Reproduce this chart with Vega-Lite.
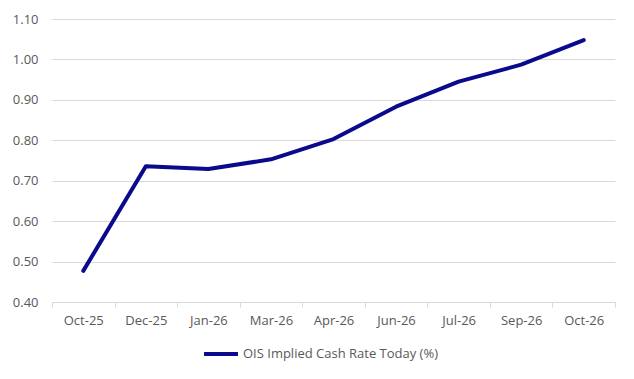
{
  "$schema": "https://vega.github.io/schema/vega-lite/v6.json",
  "width": 563,
  "height": 283,
  "autosize": {"type": "none"},
  "padding": {"left": 52, "top": 19, "right": 19, "bottom": 77},
  "background": "white",
  "config": {
    "view": {"stroke": null},
    "font": "Open Sans"
  },
  "data": {
    "values": [
      {"month": "Oct-25", "rate": 0.477},
      {"month": "Dec-25", "rate": 0.736},
      {"month": "Jan-26", "rate": 0.729},
      {"month": "Mar-26", "rate": 0.753},
      {"month": "Apr-26", "rate": 0.803},
      {"month": "Jun-26", "rate": 0.883},
      {"month": "Jul-26", "rate": 0.945},
      {"month": "Sep-26", "rate": 0.987},
      {"month": "Oct-26", "rate": 1.048}
    ]
  },
  "mark": {"type": "line", "strokeWidth": 4, "strokeCap": "round", "strokeJoin": "round"},
  "encoding": {
    "x": {
      "field": "month", "type": "ordinal", "sort": null, "bandPosition": 0.5,
      "scale": {"type": "band", "paddingInner": 0, "paddingOuter": 0},
      "axis": {
        "title": null, "labelAngle": 0, "tickBand": "extent", "grid": false,
        "domainColor": "#d9d9d9", "tickColor": "#d9d9d9", "tickSize": 5,
        "labelColor": "#595959", "labelFontSize": 13, "labelPadding": 7
      }
    },
    "y": {
      "field": "rate", "type": "quantitative",
      "scale": {"domain": [0.4, 1.1], "nice": false, "zero": false},
      "axis": {
        "title": null, "values": [0.4, 0.5, 0.6, 0.7, 0.8, 0.9, 1.0, 1.1], "format": ".2f",
        "domain": false, "ticks": false, "gridColor": "#d9d9d9", "gridWidth": 1,
        "labelColor": "#595959", "labelFontSize": 13, "labelPadding": 14
      }
    },
    "color": {
      "datum": "OIS Implied Cash Rate Today (%)",
      "scale": {"range": ["#0a0a8c"]},
      "legend": {
        "title": null, "orient": "none", "legendX": 150, "legendY": 316,
        "symbolType": "stroke", "symbolSize": 1150, "symbolStrokeWidth": 4,
        "labelColor": "#595959", "labelFontSize": 13, "labelOffset": 3, "labelLimit": 400
      }
    }
  }
}
